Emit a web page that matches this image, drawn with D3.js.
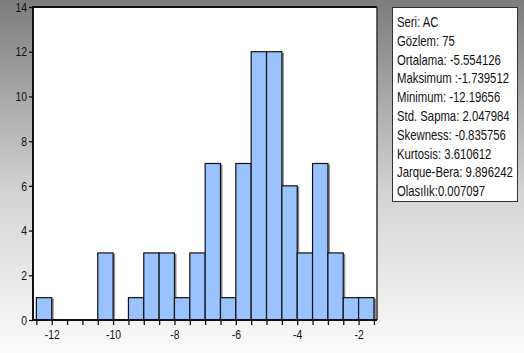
<!DOCTYPE html>
<html><head><meta charset="utf-8">
<script src="https://cdn.jsdelivr.net/npm/d3@7"></script>
<style>body{margin:0;padding:0;overflow:hidden}svg{display:block}</style>
</head><body>
<script>
const binStarts = [-12.5,-12,-11.5,-11,-10.5,-10,-9.5,-9,-8.5,-8,-7.5,-7,-6.5,-6,-5.5,-5,-4.5,-4,-3.5,-3,-2.5,-2];
const counts    = [1,0,0,0,3,0,1,3,3,1,3,7,1,7,12,12,6,3,7,3,1,1];
const binWidth = 0.5;
const xTickValues = [-12,-10,-8,-6,-4,-2];
const yTickValues = [0,2,4,6,8,10,12,14];
const statsLines = ["Seri: AC","Gözlem: 75","Ortalama: -5.554126","Maksimum :-1.739512","Minimum: -12.19656","Std. Sapma: 2.047984","Skewness: -0.835756","Kurtosis: 3.610612","Jarque-Bera: 9.896242","Olasılık:0.007097"];

const W=524,H=353;
const svg=d3.select("body").append("svg").attr("width",W).attr("height",H);
const defs=svg.append("defs");
const g=defs.append("linearGradient").attr("id","bg").attr("x1",0).attr("y1",0).attr("x2",0).attr("y2",1);
g.append("stop").attr("offset","0%").attr("stop-color","#7c7c7c");
g.append("stop").attr("offset","55%").attr("stop-color","#d4d4d4");
g.append("stop").attr("offset","100%").attr("stop-color","#fbfbfb");
svg.append("rect").attr("width",W).attr("height",H).attr("fill","url(#bg)");

const L=33,R=377,T=7,B=320;
const x=d3.scaleLinear().domain([-12.61,-1.4]).range([L,R]);
const y=d3.scaleLinear().domain([0,14]).range([B,T]);

svg.append("rect").attr("x",L).attr("y",T).attr("width",R-L).attr("height",B-T).attr("fill","#fff");

const data=binStarts.map((s,i)=>({s,c:counts[i]})).filter(d=>d.c>0);
svg.append("g").selectAll("rect").data(data).join("rect")
  .attr("x",d=>x(d.s+binWidth)).attr("y",d=>y(d.c)+1)
  .attr("width",2).attr("height",d=>B-y(d.c)-1).attr("fill","#8a8a8a");
svg.append("g").selectAll("rect").data(data).join("rect")
  .attr("x",d=>x(d.s)).attr("y",d=>y(d.c))
  .attr("width",d=>x(d.s+binWidth)-x(d.s)).attr("height",d=>B-y(d.c))
  .attr("fill","#99c2ff").attr("stroke","#111").attr("stroke-width",1.2);

svg.append("line").attr("x1",L).attr("x2",R).attr("y1",T).attr("y2",T).attr("stroke","#111").attr("stroke-width",2);
svg.append("line").attr("x1",R).attr("x2",R).attr("y1",T).attr("y2",B).attr("stroke","#333").attr("stroke-width",1.5);
svg.append("line").attr("x1",L).attr("x2",L).attr("y1",T-1).attr("y2",B+1).attr("stroke","#111").attr("stroke-width",2);

const font="'Liberation Sans', Arial, sans-serif";
function condense(sel,f){
  sel.each(function(){
    const w=this.getComputedTextLength();
    if(w>0){d3.select(this).attr("textLength",w*f).attr("lengthAdjust","spacingAndGlyphs");}
  });
}
const ya=svg.append("g").attr("transform",`translate(${L},0)`).call(d3.axisLeft(y).tickValues(yTickValues).tickSize(4).tickPadding(2));
ya.select(".domain").remove();
ya.selectAll("line").attr("stroke","#111").attr("stroke-width",1.3);
ya.selectAll("text").attr("font-family",font).attr("font-size",13).attr("fill","#111").call(condense,0.8);

const minor=d3.range(-12.5,-1.49,0.5);
const xa=svg.append("g").attr("transform",`translate(0,${B})`).call(d3.axisBottom(x).tickValues(minor).tickSize(5).tickPadding(5).tickFormat(d=>xTickValues.includes(d)?d3.format("d")(d).replace("−","-"):""));
xa.select(".domain").attr("d",`M${L},0H${R}`).attr("stroke","#111").attr("stroke-width",2);
xa.selectAll("line").attr("stroke","#111").attr("stroke-width",1.3);
xa.selectAll("text").attr("font-family",font).attr("font-size",13).attr("fill","#111").call(condense,0.8);

const bx=392,by=7,bw=125,bh=194;
svg.append("rect").attr("x",bx+0.5).attr("y",by+0.5).attr("width",bw).attr("height",bh).attr("fill","#fff").attr("stroke","#333").attr("stroke-width",1);
const sf=0.81;
svg.append("g").attr("transform",`translate(${bx+5},0) scale(${sf},1)`)
  .selectAll("text").data(statsLines).join("text")
  .attr("x",0).attr("y",(d,i)=>27+i*18.8)
  .attr("font-family",font).attr("font-size",14).attr("fill","#111").text(d=>d);
</script>
</body></html>
